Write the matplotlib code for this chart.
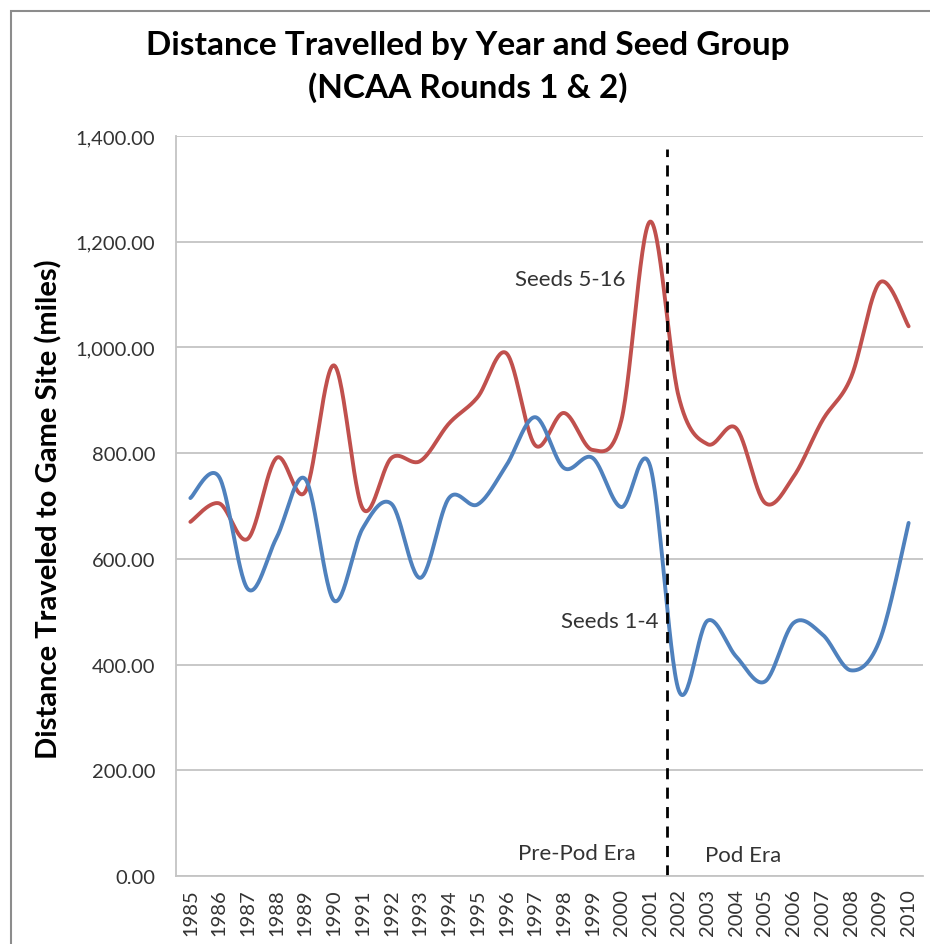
import numpy as np
import matplotlib
matplotlib.use("Agg")
import matplotlib.pyplot as plt
from matplotlib.patches import Rectangle

plt.rcParams["font.family"] = ["Lato", "DejaVu Sans"]

years = list(range(1985, 2011))
seeds_5_16 = [670, 705, 638, 791, 727, 966, 695, 791, 785, 856, 906, 989, 815, 876,
              806, 862, 1238, 906, 817, 847, 706, 756, 862, 944, 1123, 1040]
seeds_1_4 = [715, 755, 543, 640, 751, 521, 658, 704, 564, 715, 703, 777, 868, 772,
             791, 698, 776, 351, 483, 415, 368, 479, 457, 389, 447, 668]
y_ticks = [0, 200, 400, 600, 800, 1000, 1200, 1400]
pod_split = 16.6  # Position der Trennlinie (zwischen 2001 und 2002)


def glatte_kurve(werte, schritte=30):
    """Catmull-Rom-Glaettung wie bei Excel 'smoothed lines'."""
    p = np.asarray(werte, dtype=float)
    x = np.arange(len(p), dtype=float)
    px = np.concatenate([[x[0]], x, [x[-1]]])
    py = np.concatenate([[p[0]], p, [p[-1]]])
    xs, ys = [], []
    t = np.linspace(0, 1, schritte, endpoint=False)
    for i in range(1, len(px) - 2):
        x0, x1, x2, x3 = px[i - 1], px[i], px[i + 1], px[i + 2]
        y0, y1, y2, y3 = py[i - 1], py[i], py[i + 1], py[i + 2]
        c1x, c1y = x1 + (x2 - x0) / 6, y1 + (y2 - y0) / 6
        c2x, c2y = x2 - (x3 - x1) / 6, y2 - (y3 - y1) / 6
        b0, b1, b2, b3 = (1 - t) ** 3, 3 * (1 - t) ** 2 * t, 3 * (1 - t) * t ** 2, t ** 3
        xs.extend(b0 * x1 + b1 * c1x + b2 * c2x + b3 * x2)
        ys.extend(b0 * y1 + b1 * c1y + b2 * c2y + b3 * y2)
    xs.append(x[-1])
    ys.append(p[-1])
    return np.array(xs), np.array(ys)


fig = plt.figure(figsize=(9.3, 9.45), dpi=100)
# Rahmen: oben und links sichtbar, rechts/unten ausserhalb des Bildes
fig.patches.append(Rectangle((11 / 930, -0.05), 1.1, 1 - 12 / 945 + 0.05,
                             transform=fig.transFigure, fill=False,
                             edgecolor="#8c8c8c", linewidth=1.5))
ax = fig.add_axes([176 / 930, 1 - 877 / 945, 747 / 930, 740 / 945])

x_idx = np.arange(len(years))
gx, gy = glatte_kurve(seeds_5_16)
ax.plot(gx, gy, color="#c0504d", linewidth=2.8, solid_capstyle="round")
gx, gy = glatte_kurve(seeds_1_4)
ax.plot(gx, gy, color="#4f81bd", linewidth=2.8, solid_capstyle="round")

ax.plot([pod_split, pod_split], [0, 1376], color="black", linewidth=2,
        linestyle=(0, (4, 3)))

ax.set_xlim(-0.5, len(years) - 0.5)
ax.set_ylim(0, 1400)
ax.set_yticks(y_ticks)
ax.set_yticklabels([f"{v:,.2f}" for v in y_ticks], fontsize=14.5, color="#333333")
ax.set_xticks(x_idx)
ax.set_xticklabels([str(y) for y in years], rotation=90, fontsize=14.5, color="#333333")
ax.tick_params(axis="y", length=0, pad=15)
ax.tick_params(axis="x", length=0, pad=9)
ax.grid(axis="y", color="#c4c4c4", linewidth=1.3)
ax.set_axisbelow(True)
for seite in ("top", "right"):
    ax.spines[seite].set_visible(False)
for seite in ("left", "bottom"):
    ax.spines[seite].set_color("#c4c4c4")
    ax.spines[seite].set_linewidth(1.3)

ax.text(11.3, 1130, "Seeds 5-16", fontsize=16, color="#333333", va="center")
ax.text(12.9, 482, "Seeds 1-4", fontsize=16, color="#333333", va="center")
ax.text(11.4, 43, "Pre-Pod Era", fontsize=16, color="#333333", va="center")
ax.text(17.9, 40, "Pod Era", fontsize=16, color="#333333", va="center")

ax.set_ylabel("Distance Traveled to Game Site (miles)", fontsize=21,
              fontweight="bold")
ax.yaxis.set_label_coords(-0.152, 0.497)
fig.text(0.503, 1 - 45 / 945, "Distance Travelled by Year and Seed Group",
         ha="center", va="center", fontsize=24, fontweight="bold")
fig.text(0.503, 1 - 88 / 945, "(NCAA Rounds 1 & 2)",
         ha="center", va="center", fontsize=24, fontweight="bold")

fig.savefig("out.png", dpi=100)
